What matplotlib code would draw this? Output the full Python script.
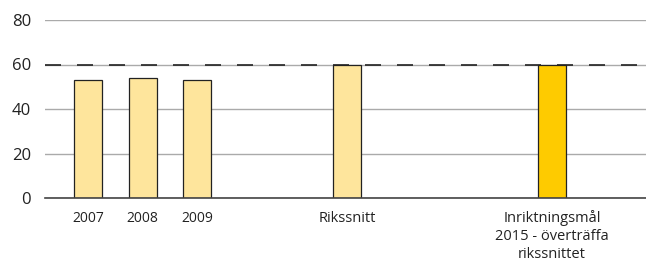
import matplotlib.pyplot as plt

plt.rcParams['font.family'] = ['Open Sans', 'DejaVu Sans']

# data
labels = ['2007', '2008', '2009', 'Rikssnitt', 'Inriktningsmål\n2015 - överträffa\nrikssnittet']
values = [53, 54, 53, 60, 60]
target = 60
positions = [0, 1, 2, 4.75, 8.5]
colors = ['#FEE59C', '#FEE59C', '#FEE59C', '#FEE59C', '#FECB00']

fig = plt.figure(figsize=(6.46, 2.66), dpi=100)
ax = fig.add_axes([45 / 646, 1 - 198 / 266, 1 - 45 / 646, (198 - 20) / 266])

ax.set_ylim(0, 80)
ax.set_xlim(-0.79, 10.22)
ax.set_yticks([0, 20, 40, 60, 80])
ax.yaxis.grid(True, color='#aaaaaa', linewidth=1)
ax.set_axisbelow(True)

ax.bar(positions, values, width=0.51, color=colors, edgecolor='#222222', linewidth=0.9, zorder=2)
# målnivå, streckad linje
ax.axhline(target, color='#222222', linestyle=(0, (9.6, 9.6)), linewidth=1.2, zorder=3)

for s in ['top', 'right', 'left']:
    ax.spines[s].set_visible(False)
ax.spines['bottom'].set_color('#444444')
ax.spines['bottom'].set_linewidth(1.2)
ax.spines['bottom'].set_zorder(4)

ax.set_xticks(positions)
ax.set_xticklabels(labels, linespacing=1.25, va='top')
for i, t in enumerate(ax.get_xticklabels()):
    t.set_fontsize(10 if i < 3 else 10.5)
ax.tick_params(axis='x', length=0, pad=9, labelcolor='#222222')
ax.tick_params(axis='y', length=0, pad=10, labelsize=12, labelcolor='#222222')

fig.savefig('out.png', dpi=100)
